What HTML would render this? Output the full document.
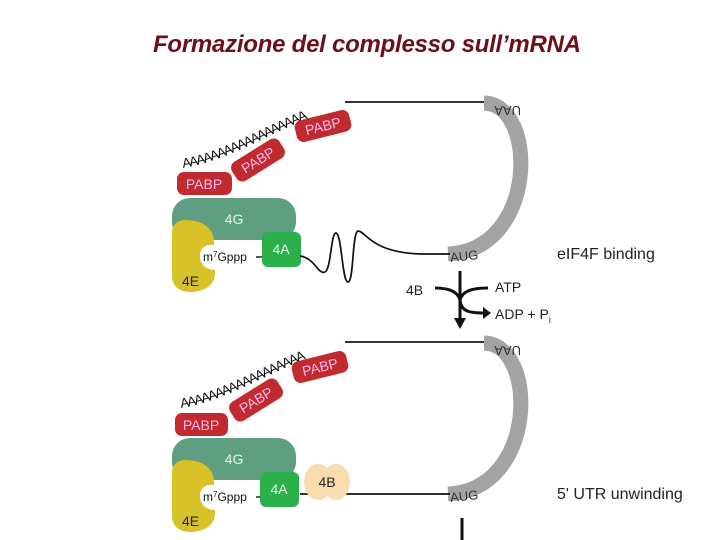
<!DOCTYPE html>
<html><head><style>
body{margin:0;background:#fff;width:720px;height:540px;overflow:hidden}
svg{display:block}
text{font-family:"Liberation Sans",Arial,sans-serif}
</style></head><body>
<svg width="720" height="540" viewBox="0 0 720 540">
<text x="367" y="52" text-anchor="middle" font-size="24" font-weight="bold" font-style="italic" fill="#6b0f1a" font-family="Liberation Sans" textLength="428">Formazione del complesso sull’mRNA</text>
<defs>
<path id="tail1" d="M183,168 C235,160 285,122 348,104"/>
<path id="tail2" d="M181,408 C233,400 283,362 348,344"/>
<g id="panel">
  <line x1="345" y1="102" x2="488" y2="102" stroke="#333" stroke-width="2"/>
  <path d="M484,103 C538,104 538,250 448,254" fill="none" stroke="#a3a3a3" stroke-width="15"/>
  <text transform="translate(521,106) rotate(180)" font-size="13" fill="#333">UAA</text>
  <text x="450" y="261" font-size="13" fill="#333" transform="rotate(-6 460 255)">AUG</text>
  <rect x="172" y="198" width="124" height="42" rx="18" fill="#5f9e80"/>
  <text x="234" y="224" font-size="14" fill="#e8f3ea" text-anchor="middle">4G</text>
  <path d="M185,220 C205,220 215,230 214,245 C195,242 195,270 215,270 C216,285 205,292 190,292 C178,292 172,285 172,275 L172,232 C172,225 178,220 185,220Z" fill="#d7c22a"/>
  <text x="182" y="286" font-size="14" fill="#222">4E</text>
  <text x="203" y="261" font-size="12" fill="#111">m<tspan font-size="8" dy="-4">7</tspan><tspan dy="4">Gppp</tspan></text>
  <line x1="256" y1="257" x2="263" y2="257" stroke="#222" stroke-width="1.5"/>
</g>
</defs>
<use href="#panel"/>
<text font-size="13.5" fill="#111" letter-spacing="-1.6"><textPath href="#tail1">AAAAAAAAAAAAAAAAAA</textPath></text>
<rect x="262" y="232" width="39" height="35" rx="6" fill="#2bb04a"/>
<text x="281" y="254" font-size="14" fill="#e8f8ea" text-anchor="middle">4A</text>
<path d="M300,256 C315,258 318,275 325,272 C331,270 331,232 336,233 C342,234 342,282 348,282 C354,282 352,232 358,231 C366,231 370,252 420,254 L450,254" fill="none" stroke="#111" stroke-width="1.7"/>
<rect x="177" y="172" width="55" height="23" rx="7" fill="#c12a2e"/>
<text x="204" y="189" font-size="14" fill="#fbe" text-anchor="middle">PABP</text>
<g transform="translate(258,160) rotate(-32)"><rect x="-28" y="-11" width="56" height="22" rx="7" fill="#c12a2e"/><text y="5" font-size="14" fill="#fbe" text-anchor="middle">PABP</text></g>
<g transform="translate(323,126) rotate(-14)"><rect x="-28" y="-11" width="56" height="22" rx="7" fill="#c12a2e"/><text y="5" font-size="14" fill="#fbe" text-anchor="middle">PABP</text></g>
<text x="557" y="259" font-size="16" fill="#222">eIF4F binding</text>
<line x1="460" y1="271" x2="460" y2="322" stroke="#111" stroke-width="3"/>
<path d="M454,318 L460,329 L466,318Z" fill="#111"/>
<path d="M435,288 C450,288 458,292 460,300 C462,292 470,288 488,288" fill="none" stroke="#111" stroke-width="3"/>
<path d="M460,300 C461,312 470,313 485,313" fill="none" stroke="#111" stroke-width="3"/>
<path d="M483,307 L491,313 L483,319Z" fill="#111"/>
<text x="406" y="295" font-size="14" fill="#222">4B</text>
<text x="495" y="292" font-size="14" fill="#222">ATP</text>
<text x="495" y="319" font-size="14" fill="#222">ADP + P<tspan font-size="9" dy="4">i</tspan></text>
<use href="#panel" transform="translate(0,240)"/>
<text font-size="13.5" fill="#111" letter-spacing="-1.6"><textPath href="#tail2">AAAAAAAAAAAAAAAAAA</textPath></text>
<line x1="300" y1="494" x2="450" y2="494" stroke="#111" stroke-width="1.7"/>
<rect x="260" y="472" width="39" height="35" rx="6" fill="#2bb04a"/>
<text x="279" y="494" font-size="14" fill="#e8f8ea" text-anchor="middle">4A</text>
<ellipse cx="318" cy="482" rx="14" ry="18" fill="#f8dcae"/>
<ellipse cx="336" cy="482" rx="14" ry="18" fill="#f8dcae"/>
<text x="327" y="487" font-size="14" fill="#222" text-anchor="middle">4B</text>
<rect x="175" y="413" width="53" height="23" rx="7" fill="#c12a2e"/>
<text x="201" y="430" font-size="14" fill="#fbe" text-anchor="middle">PABP</text>
<g transform="translate(256,400) rotate(-32)"><rect x="-28" y="-11" width="56" height="22" rx="7" fill="#c12a2e"/><text y="5" font-size="14" fill="#fbe" text-anchor="middle">PABP</text></g>
<g transform="translate(320,367) rotate(-14)"><rect x="-28" y="-11" width="56" height="22" rx="7" fill="#c12a2e"/><text y="5" font-size="14" fill="#fbe" text-anchor="middle">PABP</text></g>
<text x="557" y="499" font-size="16" fill="#222">5' UTR unwinding</text>
<line x1="462" y1="518" x2="462" y2="540" stroke="#111" stroke-width="3"/>
</svg>
</body></html>
